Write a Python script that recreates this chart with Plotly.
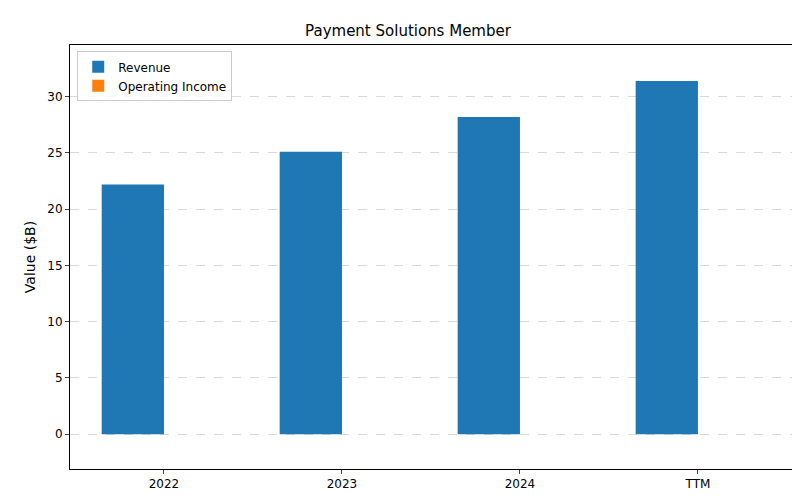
import plotly.graph_objects as go

categories = ["2022", "2023", "2024", "TTM"]
revenue = [22.2, 25.1, 28.2, 31.4]
operating_income = [0, 0, 0, 0]

w = 0.35
xs = list(range(len(categories)))
fig = go.Figure()
fig.add_bar(x=[x - w/2 for x in xs], y=revenue, width=w, name="Revenue", marker_color="#1f77b4", marker_line_width=0)
fig.add_bar(x=[x + w/2 for x in xs], y=operating_income, width=w, name="Operating Income", marker_color="#ff7f0e", marker_line_width=0)
fig.update_layout(
    width=800, height=500, plot_bgcolor="white", paper_bgcolor="white",
    margin=dict(l=62, r=15, t=37, b=39), barmode="overlay",
    font=dict(family="DejaVu Sans", size=12, color="black"),
    title=dict(text="Payment Solutions Member", x=0.5, xanchor="center", y=0.954, yanchor="middle", font=dict(size=15)),
    showlegend=True,
    legend=dict(x=0.01, y=0.985, xanchor="left", yanchor="top", bordercolor="#cccccc", borderwidth=1, bgcolor="rgba(255,255,255,0.8)", font=dict(size=12)),
    xaxis=dict(range=[-0.528, 3.534], tickvals=xs, ticktext=categories, showgrid=False, zeroline=False,
               showline=True, linecolor="black", mirror=True, ticks="outside", ticklen=4),
    yaxis=dict(range=[-3.1, 34.6], tickvals=[0,5,10,15,20,25,30], showgrid=True, gridcolor="rgba(0,0,0,0.15)", griddash="dash",
               zeroline=False, showline=True, linecolor="black", mirror=True, ticks="outside", ticklen=4,
               title=dict(text="Value ($B)", standoff=8)),
)
fig.write_html("out.html")
